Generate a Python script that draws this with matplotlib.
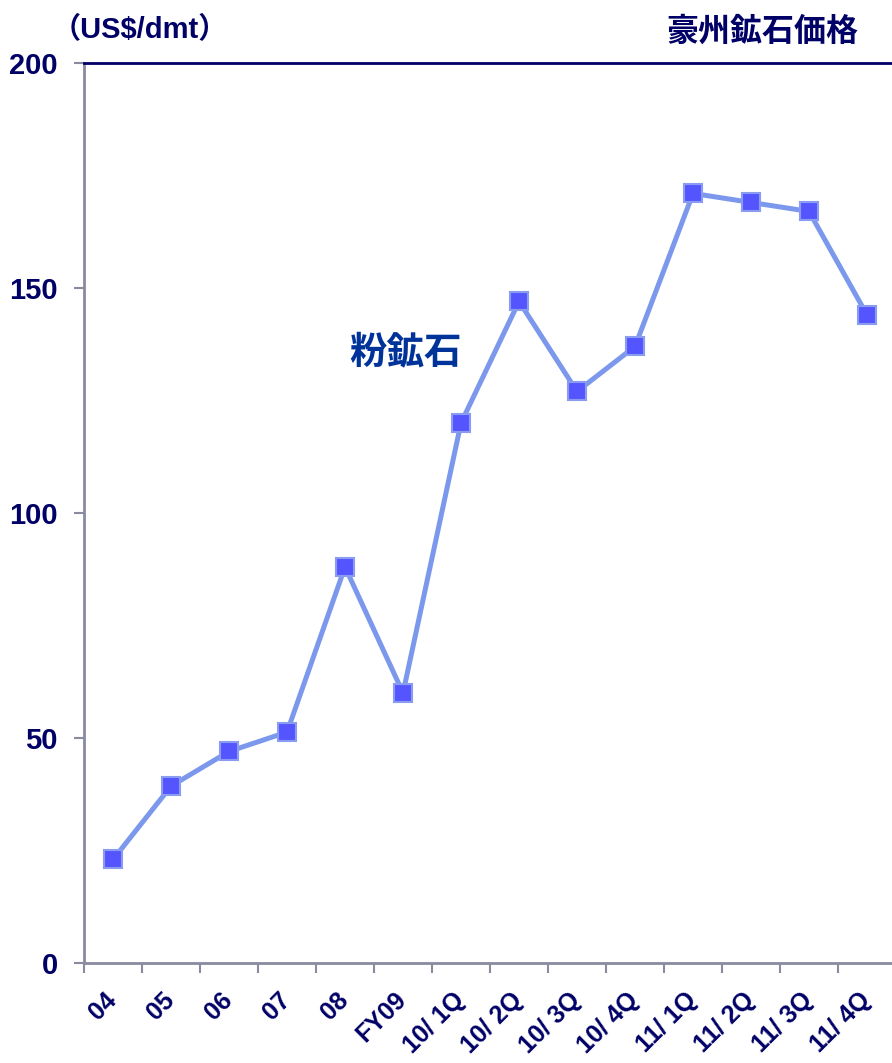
import matplotlib.pyplot as plt
import numpy as np

plt.rcParams['font.family'] = ['Liberation Sans', 'Noto Sans CJK JP', 'DejaVu Sans']

periods = ['04', '05', '06', '07', '08', 'FY09', '10/ 1Q', '10/ 2Q', '10/ 3Q',
           '10/ 4Q', '11/ 1Q', '11/ 2Q', '11/ 3Q', '11/ 4Q']
fine_ore = [23, 39.3, 47, 51.3, 88, 60, 120, 147, 127, 137, 171, 169, 167, 144]
yticks = [0, 50, 100, 150, 200]

navy = '#000066'
gray = '#8a8aa0'

fig = plt.figure(figsize=(8.92, 10.63), dpi=100)
ax = fig.add_axes([0.0942, 0.0941, 0.9103, 0.8467])

x = np.arange(len(periods)) + 0.5
ax.plot(x, fine_ore, color='#7b98ec', lw=3.6, zorder=2)
ax.plot(x, fine_ore, ls='none', marker='s', ms=12.5, mfc='#5555ff',
        mec='#8a9cf0', mew=1.5, zorder=3)

ax.set_xlim(0, len(periods))
ax.set_ylim(0, 200)
ax.set_yticks(yticks)
ax.set_yticklabels([str(v) for v in yticks], fontsize=21, fontweight='bold', color=navy)
ax.tick_params(axis='y', length=7, width=1.5, color=gray, pad=12)

# category boundaries get the tick marks, labels sit at the centres
ax.set_xticks(np.arange(len(periods) + 1))
ax.set_xticklabels([])
ax.tick_params(axis='x', length=7, width=1.5, color=gray)
ax.set_xticks(x, minor=True)
ax.set_xticklabels(periods, minor=True, rotation=45, ha='right', va='center',
                   rotation_mode='anchor', fontsize=18, fontweight='bold', color=navy)
ax.tick_params(axis='x', which='minor', length=0, pad=24)

for side in ['left', 'bottom']:
    ax.spines[side].set_color(gray)
    ax.spines[side].set_linewidth(2)
ax.spines['top'].set_color(navy)
ax.spines['top'].set_linewidth(2)
ax.spines['right'].set_visible(False)

fig.text(0.058, 0.972, '（US$/dmt）', fontsize=21, fontweight='bold', color=navy,
         ha='left', va='center', family=['Liberation Sans', 'Noto Sans CJK JP'])
fig.text(0.962, 0.970, '豪州鉱石価格', fontsize=23, fontweight='bold', color=navy,
         ha='right', va='center', family=['Noto Sans CJK JP'])
ax.text(5.55, 135.8, '粉鉱石', fontsize=27, fontweight='bold', color='#003399',
        ha='center', va='center', family=['Noto Sans CJK JP'])

fig.savefig('out.png', dpi=100)
